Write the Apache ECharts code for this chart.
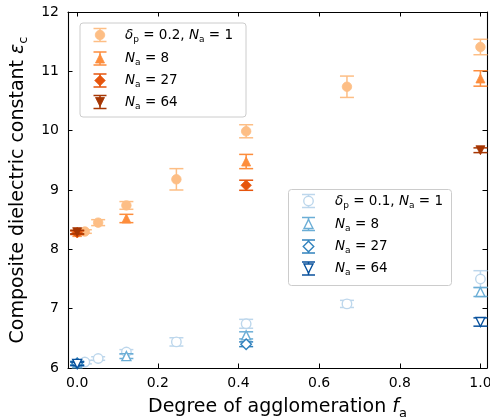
<!DOCTYPE html>
<html><head><meta charset="utf-8">
<script src="https://cdn.jsdelivr.net/npm/echarts@6/dist/echarts.min.js"></script>
<style>html,body{margin:0;padding:0;background:#fff}#c{width:490px;height:418px}</style>
</head><body><div id="c"></div>
<script>
const xTicks = [0, 0.2, 0.4, 0.6, 0.8, 1.0];
const xTickLabels = ['0.0', '0.2', '0.4', '0.6', '0.8', '1.0'];
const yTicks = [6, 7, 8, 9, 10, 11, 12];

// delta_p = 0.2 (oranges)
const o1X = [0.019, 0.052, 0.122, 0.246, 0.419, 0.669, 1.0];
const o1Y = [8.30, 8.45, 8.74, 9.18, 9.99, 10.74, 11.41];
const o1E = [0.03, 0.05, 0.065, 0.18, 0.11, 0.18, 0.13];
const o8X = [0.0, 0.122, 0.419, 1.0];
const o8Y = [8.29, 8.52, 9.48, 10.88];
const o8E = [0.03, 0.07, 0.12, 0.13];
const o27X = [0.0, 0.419];
const o27Y = [8.28, 9.08];
const o27E = [0.03, 0.085];
const o64X = [0.0, 1.0];
const o64Y = [8.29, 9.67];
const o64E = [0.03, 0.04];

// delta_p = 0.1 (blues)
const b1X = [0.019, 0.052, 0.122, 0.246, 0.419, 0.669, 1.0];
const b1Y = [6.10, 6.16, 6.27, 6.44, 6.745, 7.08, 7.50];
const b1E = [0.03, 0.03, 0.04, 0.07, 0.075, 0.06, 0.14];
const b8X = [0.0, 0.122, 0.419, 1.0];
const b8Y = [6.08, 6.20, 6.55, 7.28];
const b8E = [0.03, 0.04, 0.06, 0.075];
const b27X = [0.0, 0.419];
const b27Y = [6.08, 6.40];
const b27E = [0.03, 0.04];
const b64X = [0.0, 1.0];
const b64Y = [6.07, 6.775];
const b64E = [0.03, 0.07];

const orangeLabels = ['{i|δ}{s|p} = 0.2, {i|N}{s|a} = 1', '{i|N}{s|a} = 8', '{i|N}{s|a} = 27', '{i|N}{s|a} = 64'];
const blueLabels = ['{i|δ}{s|p} = 0.1, {i|N}{s|a} = 1', '{i|N}{s|a} = 8', '{i|N}{s|a} = 27', '{i|N}{s|a} = 64'];

const OR = ['#fdbe85', '#fd8d3c', '#e6550d', '#a63603'];
const BL = ['#bdd7ec', '#6baed6', '#3182bd', '#08519c'];
const SYM = [['circle', 0, 9.5], ['triangle', 0, 9], ['diamond', 0, 10.5], ['triangle', 180, 9]];

const FONT = 'DejaVu Sans';
const rich = (fs) => ({
  i: {fontStyle: 'italic', fontFamily: FONT, fontSize: fs, lineHeight: fs + 3},
  s: {fontFamily: FONT, fontSize: Math.round(fs * 0.7), lineHeight: 8, padding: [Math.round(fs * 0.65), 0, 0, 0]}
});

const groups = [
  {xs: [o1X, o8X, o27X, o64X], ys: [o1Y, o8Y, o27Y, o64Y], es: [o1E, o8E, o27E, o64E], colors: OR, hollow: false},
  {xs: [b1X, b8X, b27X, b64X], ys: [b1Y, b8Y, b27Y, b64Y], es: [b1E, b8E, b27E, b64E], colors: BL, hollow: true}
];

const series = [];
let zc = 0;
groups.forEach((g, gi) => {
  for (let k = 0; k < 4; k++) {
    const color = g.colors[k];
    const data = g.xs[k].map((x, i) => [x, g.ys[k][i], g.es[k][i]]);
    zc++;
    series.push({
      type: 'custom', xAxisIndex: 0, yAxisIndex: 0, z: 2 + zc * 0.01, silent: true, clip: false,
      encode: {x: 0, y: 1},
      data: data,
      renderItem: function (params, api) {
        const x = api.value(0), y = api.value(1), e = api.value(2);
        const t = api.coord([x, y + e]), b = api.coord([x, y - e]);
        const cw = 7;
        const st = {stroke: color, lineWidth: 1.5};
        return {type: 'group', children: [
          {type: 'line', shape: {x1: t[0], y1: t[1], x2: b[0], y2: b[1]}, style: st},
          {type: 'line', shape: {x1: t[0] - cw, y1: t[1], x2: t[0] + cw, y2: t[1]}, style: st},
          {type: 'line', shape: {x1: b[0] - cw, y1: b[1], x2: b[0] + cw, y2: b[1]}, style: st}
        ]};
      }
    });
    series.push({
      type: 'scatter', xAxisIndex: 0, yAxisIndex: 0, z: 2 + zc * 0.01 + 0.005, silent: true,
      data: data.map(d => [d[0], d[1]]),
      symbol: SYM[k][0], symbolRotate: SYM[k][1], symbolSize: SYM[k][2],
      itemStyle: {color: g.hollow ? '#ffffff' : color, borderColor: color, borderWidth: g.hollow ? 1.4 : 0.8, opacity: 1}
    });
  }
});

function markerEl(k, cx, cy, color, hollow) {
  const st = {fill: hollow ? '#ffffff' : color, stroke: color, lineWidth: hollow ? 1.4 : 0.8};
  const sz = SYM[k][2] / 2;
  if (k === 0) return {type: 'circle', shape: {cx: cx, cy: cy, r: sz}, style: st};
  if (k === 1) return {type: 'polygon', shape: {points: [[cx, cy - sz], [cx + sz, cy + sz], [cx - sz, cy + sz]]}, style: st};
  if (k === 2) return {type: 'polygon', shape: {points: [[cx, cy - sz], [cx + sz, cy], [cx, cy + sz], [cx - sz, cy]]}, style: st};
  return {type: 'polygon', shape: {points: [[cx, cy + sz], [cx + sz, cy - sz], [cx - sz, cy - sz]]}, style: st};
}

function legendGroup(box, iconX, textX, rowYs, labels, colors, hollow) {
  const ch = [{type: 'rect', shape: {x: box[0], y: box[1], width: box[2], height: box[3], r: 3},
    style: {fill: 'rgba(255,255,255,0.8)', stroke: '#cccccc', lineWidth: 1}}];
  labels.forEach((lab, k) => {
    const cy = rowYs[k], c = colors[k];
    const st = {stroke: c, lineWidth: 1.5};
    ch.push({type: 'line', shape: {x1: iconX, y1: cy - 6.5, x2: iconX, y2: cy + 6.5}, style: st});
    ch.push({type: 'line', shape: {x1: iconX - 6.5, y1: cy - 6.5, x2: iconX + 6.5, y2: cy - 6.5}, style: st});
    ch.push({type: 'line', shape: {x1: iconX - 6.5, y1: cy + 6.5, x2: iconX + 6.5, y2: cy + 6.5}, style: st});
    ch.push(markerEl(k, iconX, cy, c, hollow));
    ch.push({type: 'text', x: textX, y: cy, style: {text: lab, fill: '#000', font: '13.5px "DejaVu Sans"',
      fontFamily: FONT, fontSize: 13.5, lineHeight: 16.5,
      verticalAlign: 'middle', align: 'left', rich: rich(13.5)}});
  });
  return {type: 'group', children: ch, z: 100};
}

const chart = echarts.init(document.getElementById('c'), null, {renderer: 'canvas'});
const axisCommon = {
  axisLine: {show: true, onZero: false, lineStyle: {color: '#000', width: 1.1}},
  splitLine: {show: false}
};
chart.setOption({
  animation: false,
  backgroundColor: '#fff',
  grid: {left: 68, top: 12, width: 419, height: 356, outerBoundsMode: 'none', containLabel: false},
  xAxis: [
    Object.assign({}, axisCommon, {
      type: 'value', position: 'bottom', min: -0.0228, max: 1.0163,
      axisTick: {show: true, inside: true, length: 4.5, customValues: xTicks, lineStyle: {color: '#000', width: 1}},
      axisLabel: {show: true, customValues: xTicks, margin: 8, color: '#000', fontFamily: FONT, fontSize: 14,
        formatter: (v) => xTickLabels[xTicks.findIndex(t => Math.abs(t - v) < 1e-9)]},
      name: 'Degree of agglomeration {i|f}{s|a}', nameLocation: 'middle', nameGap: 17,
      nameTextStyle: {color: '#000', fontFamily: FONT, fontSize: 19, lineHeight: 22, rich: rich(19)}
    }),
    Object.assign({}, axisCommon, {
      type: 'value', position: 'top', min: -0.0228, max: 1.0163,
      axisTick: {show: true, inside: true, length: 4.5, customValues: xTicks, lineStyle: {color: '#000', width: 1}},
      axisLabel: {show: false}
    })
  ],
  yAxis: [
    Object.assign({}, axisCommon, {
      type: 'value', position: 'left', min: 6, max: 12, interval: 1,
      axisTick: {show: true, inside: true, length: 4.5, lineStyle: {color: '#000', width: 1}},
      axisLabel: {show: true, margin: 9, color: '#000', fontFamily: FONT, fontSize: 14},
      name: 'Composite dielectric constant {i|ε}{s|c}', nameLocation: 'middle', nameGap: 36, nameRotate: 90,
      nameTextStyle: {color: '#000', fontFamily: FONT, fontSize: 19, lineHeight: 22, rich: rich(19)}
    }),
    Object.assign({}, axisCommon, {
      type: 'value', position: 'right', min: 6, max: 12, interval: 1,
      axisTick: {show: true, inside: true, length: 4.5, lineStyle: {color: '#000', width: 1}},
      axisLabel: {show: false}
    })
  ],
  series: series,
  graphic: [
    legendGroup([80, 23, 166, 94], 100, 125, [35, 58.5, 80.5, 102], orangeLabels, OR, false),
    legendGroup([288.5, 189.5, 163, 96], 308.5, 335, [201, 224, 246.5, 268.5], blueLabels, BL, true)
  ]
});
</script></body></html>
